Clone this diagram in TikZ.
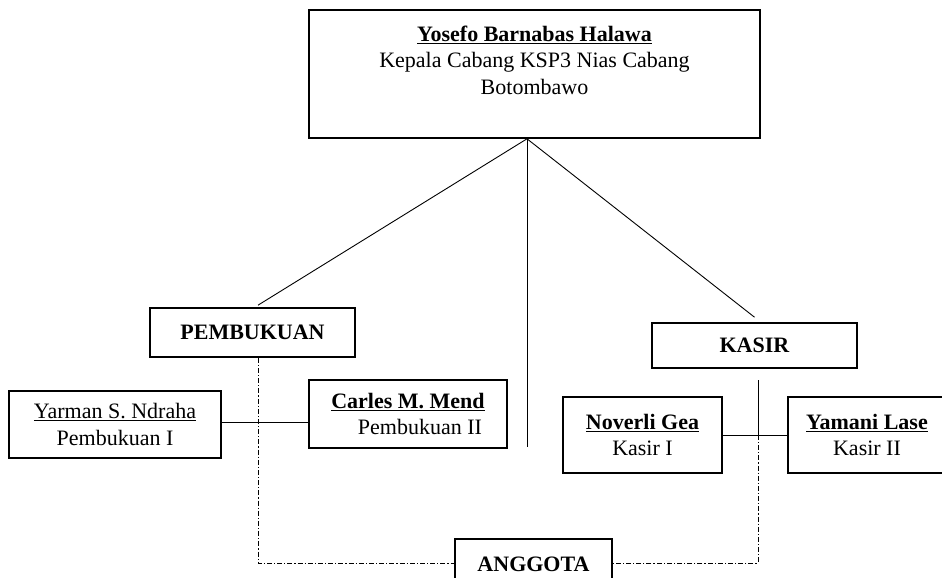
\documentclass[tikz,border=0pt]{standalone}
\usepackage{fontspec}
\setmainfont{Liberation Serif}
\begin{document}
\begin{tikzpicture}[x=1pt,y=-1pt,
  box/.style={draw, line width=1.6pt, inner sep=0pt, align=center},
  conn/.style={line width=0.9pt},
  dd/.style={line width=0.9pt, dash pattern=on 5pt off 2pt on 1.2pt off 2pt},
  txt/.style={align=center, inner sep=0pt},
  every node/.style={font=\fontsize{22}{26.5}\selectfont}]
\useasboundingbox (0,0) rectangle (942,578);
\clip (0,0) rectangle (942,578);

% boxes
\node[box, minimum width=451pt, minimum height=128pt] (kepala) at (534.5,74) {};
\node[txt] (kepalatxt) at (534.5,60) {\textbf{\underline{Yosefo Barnabas Halawa}}\\Kepala Cabang KSP3 Nias Cabang\\Botombawo};

\node[box, minimum width=205pt, minimum height=49pt] (pemb) at (252.5,332.5) {\textbf{PEMBUKUAN}};
\node[box, minimum width=205pt, minimum height=45pt] (kasir) at (754.5,345.5) {\textbf{KASIR}};

\node[box, minimum width=212pt, minimum height=67pt] (yarman) at (115,424.5) {\underline{Yarman S. Ndraha}\\Pembukuan I};
\node[box, minimum width=198pt, minimum height=68pt] (carles) at (408,414) {\textbf{\underline{Carles M. Mend}}\\\hspace*{24pt}Pembukuan II};

\node[box, minimum width=159pt, minimum height=76pt] (noverli) at (642.5,435) {\textbf{\underline{Noverli Gea}}\\Kasir I};
\node[box, minimum width=158pt, minimum height=76pt] (yamani) at (867,435) {\textbf{\underline{Yamani Lase}}\\Kasir II};

\node[box, minimum width=157pt, minimum height=51pt] (anggota) at (533.5,564.5) {\textbf{ANGGOTA}};

% helper coordinates
\coordinate (apex) at ([xshift=-7.5pt]kepala.south);
\coordinate (vend) at (527,447);
\coordinate (pj) at (258,422);
\coordinate (pb) at (258,563);
\coordinate (kt) at (758,380);
\coordinate (kj) at (758,435);
\coordinate (kb) at (758,563);

% solid connectors
\draw[conn] (apex) -- ([xshift=5.5pt,yshift=2pt]pemb.north);
\draw[conn] (apex) -- ([yshift=5pt]kasir.north);
\draw[conn] (apex) -- (vend);
\draw[conn] (yarman.east |- pj) -- (carles.west |- pj);
\draw[conn] (noverli.east |- kj) -- (yamani.west |- kj);
\draw[conn] (kt) -- (kj);

% dash-dot connectors to ANGGOTA
\draw[dd] (pemb.south -| pj) -- (pb) -- (anggota.west |- pb);
\draw[dd] (kj) -- (kb) -- (anggota.east |- kb);
\end{tikzpicture}
\end{document}
